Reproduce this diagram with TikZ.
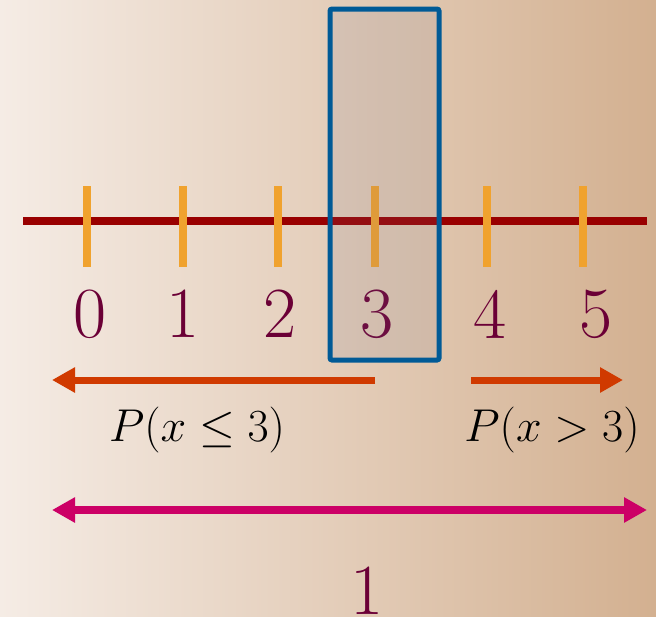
\RequirePackage{fix-cm}
\documentclass[tikz,border=0pt]{standalone}
\usepackage{amsmath,amssymb}
\usepackage{xcolor}
\usepackage{tikz}
\usetikzlibrary{arrows.meta}
\usetikzlibrary{positioning}
\definecolor{bgleft}{HTML}{F5ECE5}
\definecolor{bgright}{HTML}{D3B090}
\definecolor{axisred}{HTML}{990000}
\definecolor{tickorange}{HTML}{F0A22E}
\definecolor{labelwine}{HTML}{6B0036}
\definecolor{boxblue}{HTML}{005A96}
\definecolor{probred}{HTML}{D03A00}
\definecolor{totalpink}{HTML}{CC0066}
\tikzset{
	axis/.style={axisred, line width=8pt},
	tickline/.style={tickorange, line width=8pt},
	numlabel/.style={
		text=labelwine,
		font=\fontsize{72}{80}\selectfont,
		inner sep=0pt,
	},
	problabel/.style={
		font=\fontsize{46}{52}\selectfont,
		inner sep=0pt,
	},
	selbox/.style={
		draw=boxblue, line width=5pt, rounded corners=2pt,
		fill=gray!90!blue, fill opacity=0.13, draw opacity=1,
		minimum width=109pt, minimum height=351pt,
	},
	probarrow/.style={
		probred, line width=7pt,
		-{Triangle[length=23pt, width=24pt]},
	},
	totalarrow/.style={
		totalpink, line width=8pt,
		{Triangle[length=23pt, width=24pt]}-{Triangle[length=23pt, width=24pt]},
	},
}

\begin{document}
\begin{tikzpicture}[x=1pt, y=-1pt]
			% Background
			\useasboundingbox (0,0) rectangle (656,616);
			\shade[left color=bgleft, right color=bgright] (0,0) rectangle (656,616);
			
			% Number line
			\draw[axis] (23,221) -- (647,221);
			\draw[tickline] (87,186) -- (87,267);
			\draw[tickline] (183,186) -- (183,267);
			\draw[tickline] (278,186) -- (278,267);
			\draw[tickline] (375,186) -- (375,267);
			\draw[tickline] (487,186) -- (487,267);
			\draw[tickline] (583,186) -- (583,267);
			
			% Values
			\node[numlabel] (n0) at (90,314) {0};
			\node[numlabel] (n1) at (183,314) {1};
			\node[numlabel] (n2) at (280,314) {2};
			\node[numlabel] (n3) at (377,314) {3};
			\node[numlabel] (n4) at (490,314) {4};
			\node[numlabel] (n5) at (596,314) {5};
			
			% Selected value
			\node[selbox] (sel) at (384.5,184.5) {};
			
			% Probabilities
			\coordinate (lefttail) at (375,380);
			\coordinate (leftend) at (52,380);
			\coordinate (righttail) at (471,380);
			\coordinate (rightend) at (623,380);
			\draw[probarrow] (lefttail) -- (leftend);
			\draw[probarrow] (righttail) -- (rightend);
			\node[problabel] (pleq) at (197,430) {$P(x\leq 3)$};
			\node[problabel] (pgt) at (552,430) {$P(x>3)$};
			
			% Total
			\coordinate (totalleft) at (52,510);
			\coordinate (totalright) at (647,510);
			\draw[totalarrow] (totalleft) -- (totalright);
			\node[numlabel] (total) at (367,591) {1};
		\end{tikzpicture}
\end{document}
